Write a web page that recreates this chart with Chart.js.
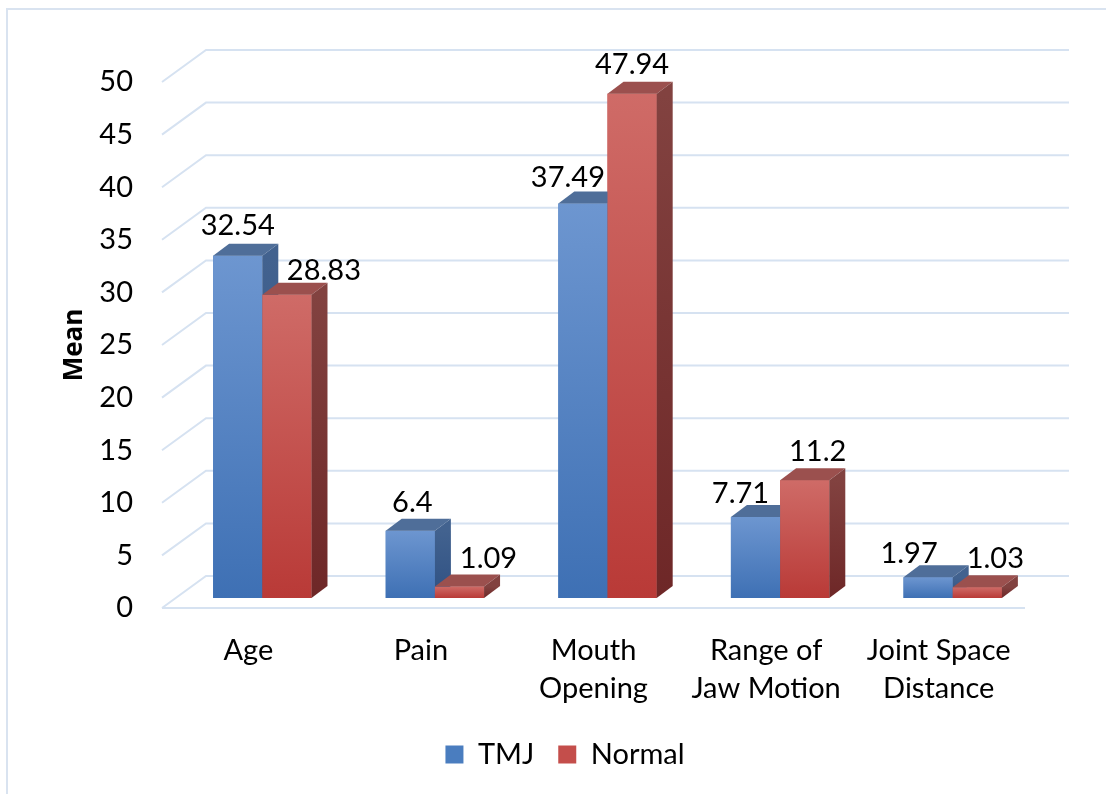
<!DOCTYPE html>
<html>
<head>
<meta charset="utf-8">
<script src="https://cdn.jsdelivr.net/npm/chart.js@4.4.0/dist/chart.umd.min.js"></script>
<style>
  html, body { margin: 0; padding: 0; background: #fff; }
  #wrap { width: 1106px; height: 794px; }
</style>
</head>
<body>
<div id="wrap"><canvas id="chart" width="1106" height="794"></canvas></div>
<script>
// カテゴリと系列の値
const categories = ['Age', 'Pain', ['Mouth', 'Opening'], ['Range of', 'Jaw Motion'], ['Joint Space', 'Distance']];
const seriesNames = ['TMJ', 'Normal'];
const tmjValues = [32.54, 6.4, 37.49, 7.71, 1.97];
const normalValues = [28.83, 1.09, 47.94, 11.2, 1.03];
const yMin = 0;
const yMax = 50;
const yStep = 5;
const yTitle = 'Mean';

// 3D風の奥行き（床・背面の奥行き、棒の前面位置、棒の奥行き）
const FLOOR = { dx: 44, dy: 32 };
const FRONT = { dx: 14, dy: 10 };
const BAR = { dx: 16, dy: 12 };

const FONT = 'Lato';
const FONT_SIZE = 29;

// 面ごとの色
const faceColors = [
    { light: '#6d96d0', dark: '#3e70b4', top: '#4f6e99', sideTop: '#42628f', sideBottom: '#2f5183', legend: '#4a7dbf' },
    { light: '#cf6b67', dark: '#b93a37', top: '#9b504e', sideTop: '#824240', sideBottom: '#6e2727', legend: '#c44e4b' }
];

// ラベル位置の微調整 [dx, dy]
const labelNudge = [
    [[0, -3], [2, -1], [-15, 1], [-15, 4], [-19, 3]],
    [[37, 3], [29, -1], [0, -2], [13, -2], [18, -2]]
];

// 背面のグリッド線・床・枠
const wallPlugin = {
    id: 'wall',
    beforeDraw(chart) {
        const ctx = chart.ctx;
        ctx.save();
        ctx.strokeStyle = '#d9e3f0';
        ctx.lineWidth = 2;
        ctx.beginPath();
        ctx.moveTo(7, 794);
        ctx.lineTo(7, 9);
        ctx.lineTo(1106, 9);
        ctx.stroke();
        ctx.restore();
    },
    beforeDatasetsDraw(chart) {
        const ctx = chart.ctx;
        const a = chart.chartArea;
        const ys = chart.scales.y;
        const x0 = a.left - FRONT.dx;
        const xr = a.right - FRONT.dx;
        ctx.save();
        ctx.strokeStyle = '#d6e2f1';
        ctx.lineWidth = 2;
        ctx.beginPath();
        ys.ticks.forEach(t => {
            const py = ys.getPixelForValue(t.value) + FRONT.dy;
            ctx.moveTo(x0, py);
            ctx.lineTo(x0 + FLOOR.dx, py - FLOOR.dy);
            ctx.lineTo(xr + FLOOR.dx, py - FLOOR.dy);
        });
        const p0 = ys.getPixelForValue(0) + FRONT.dy;
        ctx.moveTo(x0, p0);
        ctx.lineTo(xr, p0);
        ctx.stroke();
        ctx.restore();
    }
};

function drawBox(ctx, el, c) {
    const { x, y, base, width } = el.getProps(['x', 'y', 'base', 'width'], true);
    const left = x - width / 2;
    const right = x + width / 2;

    // 前面
    const g = ctx.createLinearGradient(0, y, 0, base);
    g.addColorStop(0, c.light);
    g.addColorStop(1, c.dark);
    ctx.fillStyle = g;
    ctx.fillRect(left, y, width, base - y);

    // 上面
    ctx.fillStyle = c.top;
    ctx.beginPath();
    ctx.moveTo(left, y);
    ctx.lineTo(left + BAR.dx, y - BAR.dy);
    ctx.lineTo(right + BAR.dx, y - BAR.dy);
    ctx.lineTo(right, y);
    ctx.closePath();
    ctx.fill();

    // 側面
    const sg = ctx.createLinearGradient(0, y, 0, base);
    sg.addColorStop(0, c.sideTop);
    sg.addColorStop(1, c.sideBottom);
    ctx.fillStyle = sg;
    ctx.beginPath();
    ctx.moveTo(right, y);
    ctx.lineTo(right + BAR.dx, y - BAR.dy);
    ctx.lineTo(right + BAR.dx, base - BAR.dy);
    ctx.lineTo(right, base);
    ctx.closePath();
    ctx.fill();
}

// 立体の棒と値ラベル
const boxPlugin = {
    id: 'box3d',
    afterDatasetsDraw(chart) {
        const ctx = chart.ctx;
        const metas = chart.data.datasets.map((_, d) => chart.getDatasetMeta(d));
        ctx.save();
        categories.forEach((_, i) => {
            metas.forEach((meta, d) => drawBox(ctx, meta.data[i], faceColors[d]));
        });
        ctx.font = `${FONT_SIZE}px ${FONT}`;
        ctx.fillStyle = '#000';
        ctx.textAlign = 'center';
        ctx.textBaseline = 'middle';
        metas.forEach((meta, d) => {
            const values = chart.data.datasets[d].data;
            meta.data.forEach((el, i) => {
                const [nx, ny] = labelNudge[d][i];
                ctx.fillText(String(values[i]), el.x + nx, el.y - 27 + ny);
            });
        });
        ctx.restore();
    },
    afterDraw(chart) {
        const ctx = chart.ctx;
        const ys = chart.scales.y;
        const mid = (ys.getPixelForValue(yMin) + ys.getPixelForValue(yMax)) / 2 + FRONT.dy;
        ctx.save();
        ctx.translate(75, mid);
        ctx.rotate(-Math.PI / 2);
        ctx.font = 'bold 26px "Open Sans"';
        ctx.fillStyle = '#000';
        ctx.textAlign = 'center';
        ctx.textBaseline = 'middle';
        ctx.fillText(yTitle, 0, 0);
        ctx.restore();
    }
};

new Chart(document.getElementById('chart'), {
    type: 'bar',
    data: {
        labels: categories,
        datasets: [
            { label: seriesNames[0], data: tmjValues, backgroundColor: faceColors[0].legend },
            { label: seriesNames[1], data: normalValues, backgroundColor: faceColors[1].legend }
        ]
    },
    options: {
        responsive: false,
        devicePixelRatio: 1,
        animation: false,
        datasets: { bar: { categoryPercentage: 0.57, barPercentage: 1, borderWidth: 0 } },
        layout: { padding: { top: 72, right: 67, bottom: 15, left: 91 } },
        scales: {
            x: {
                grid: { display: false, drawTicks: false },
                border: { display: false },
                ticks: {
                    color: '#000',
                    font: { family: FONT, size: FONT_SIZE, lineHeight: 1.3 },
                    padding: 34,
                    labelOffset: -FRONT.dx,
                    maxRotation: 0,
                    autoSkip: false
                },
                afterFit: s => { s.height = 118; }
            },
            y: {
                min: yMin,
                max: yMax,
                grid: { display: false, drawTicks: false },
                border: { display: false },
                ticks: {
                    stepSize: yStep,
                    color: '#000',
                    font: { family: FONT, size: FONT_SIZE },
                    padding: 43,
                    labelOffset: FRONT.dy
                },
                afterFit: s => { s.width = 85; }
            }
        },
        plugins: {
            legend: {
                position: 'bottom',
                labels: {
                    color: '#000',
                    font: { family: FONT, size: FONT_SIZE },
                    boxWidth: 18,
                    boxHeight: 18,
                    padding: 24
                }
            },
            tooltip: { enabled: false }
        }
    },
    plugins: [wallPlugin, boxPlugin]
});
</script>
</body>
</html>
